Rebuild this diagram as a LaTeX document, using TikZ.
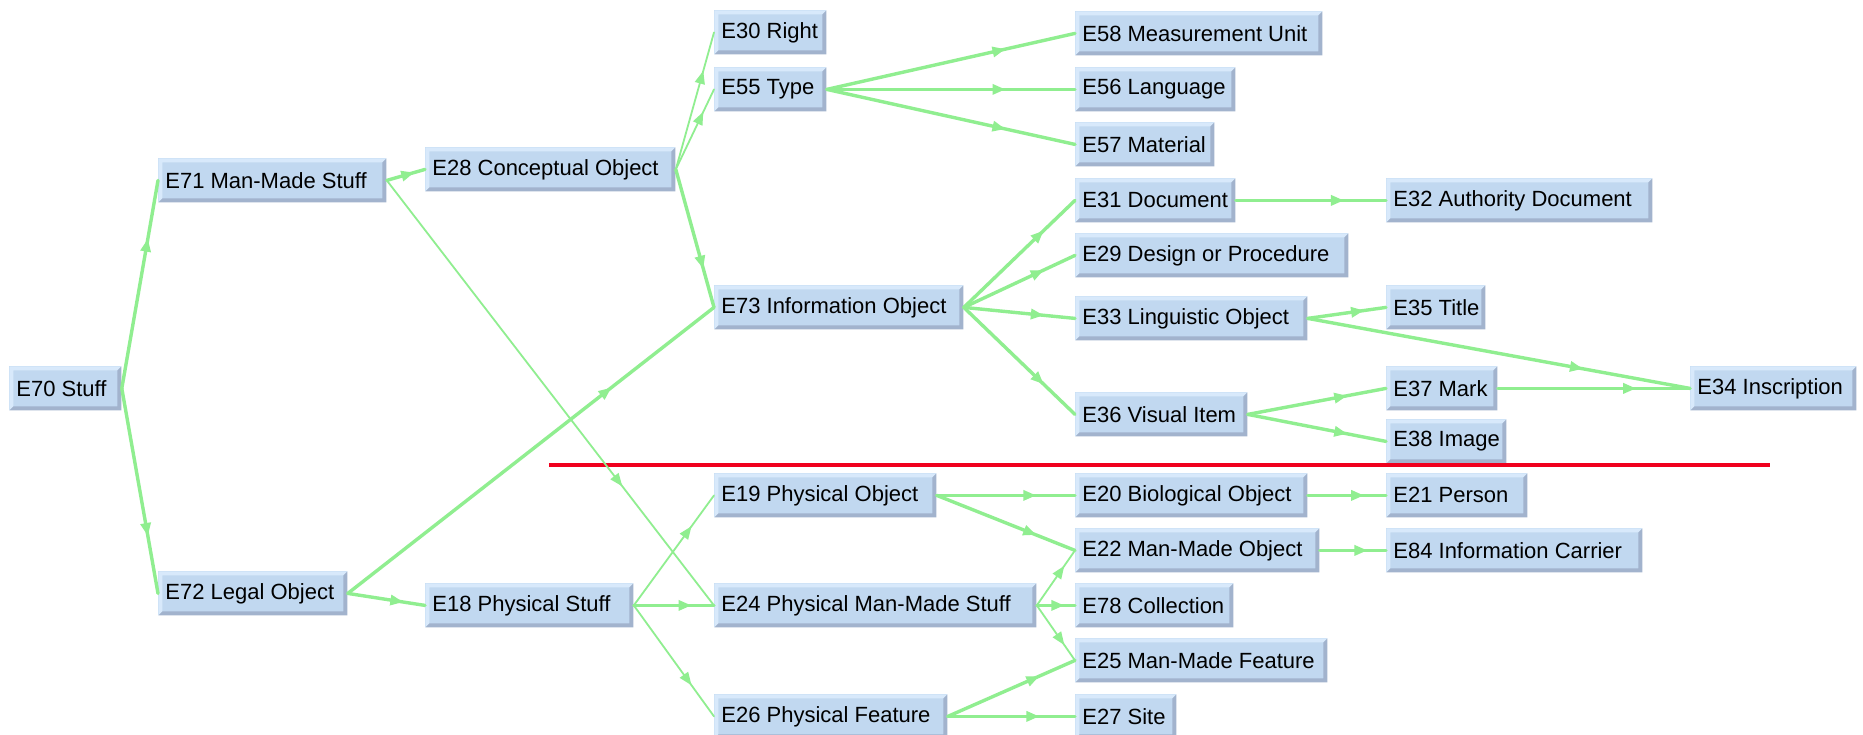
\documentclass[tikz,border=0pt]{standalone}
\usepackage{fontspec}
\setmainfont{Liberation Sans}
\usetikzlibrary{arrows.meta,decorations.markings}

\definecolor{boxfill}{RGB}{193,216,240}
\definecolor{bevhi}{RGB}{216,233,251}
\definecolor{bevlo}{RGB}{162,179,205}
\definecolor{linkgreen}{RGB}{144,238,144}
\definecolor{divider}{RGB}{240,0,30}

\tikzset{
  box/.style={
    fill=boxfill, inner xsep=3.5pt, inner ysep=0pt, minimum height=22pt,
    anchor=north west, font=\fontsize{11}{13}\selectfont,
    path picture={
      \fill[bevhi] (path picture bounding box.south west)
        -- (path picture bounding box.north west)
        -- (path picture bounding box.north east)
        -- ([shift={(-2pt,-2pt)}]path picture bounding box.north east)
        -- ([shift={(2pt,-2pt)}]path picture bounding box.north west)
        -- ([shift={(2pt,2pt)}]path picture bounding box.south west) -- cycle;
      \fill[bevlo] (path picture bounding box.south west)
        -- (path picture bounding box.south east)
        -- (path picture bounding box.north east)
        -- ([shift={(-2pt,-2pt)}]path picture bounding box.north east)
        -- ([shift={(-2pt,2pt)}]path picture bounding box.south east)
        -- ([shift={(2pt,2pt)}]path picture bounding box.south west) -- cycle;
    }},
  link/.style={
    draw=linkgreen, line width=1.7pt, line cap=round,
    postaction={decorate},
    decoration={markings,
      mark=at position 0.72 with {\arrow[linkgreen]{Triangle[length=6.5pt,width=5pt]}}}},
  thinlink/.style={link, line width=0.9pt},
  sep/.style={draw=divider, line width=2pt}
}

% \bx{name}{left px}{top px}{width px}{label}
\newcommand\bx[5]{%
  \pgfmathsetlengthmacro\bxw{#4*0.5pt-7pt}%
  \node[box] (#1) at (#2,#3) {\hbox to \bxw{#5\hss}};}

\begin{document}
\begin{tikzpicture}[x=0.5pt,y=-0.5pt]
  \fill[white] (0,0) rectangle (1863,734);
  \useasboundingbox (0,0) rectangle (1863,734);

  % root and first levels
  \bx{e70}{9}{366}{112}{E70 Stuff}
  \bx{e71}{158}{158}{228}{E71 Man-Made Stuff}
  \bx{e72}{158}{571}{189}{E72 Legal Object}
  \bx{e28}{425}{147}{250}{E28 Conceptual Object}
  \bx{e18}{425}{583}{208}{E18 Physical Stuff}

  % third column
  \bx{e30}{714}{10}{112}{E30 Right}
  \bx{e55}{714}{67}{112}{E55 Type}
  \bx{e73}{714}{285}{249}{E73 Information Object}
  \bx{e19}{714}{473}{222}{E19 Physical Object}
  \bx{e24}{714}{583}{322}{E24 Physical Man-Made Stuff}
  \bx{e26}{714}{694}{233}{E26 Physical Feature}

  % fourth column
  \bx{e58}{1075}{11}{247}{E58 Measurement Unit}
  \bx{e56}{1075}{67}{160}{E56 Language}
  \bx{e57}{1075}{122}{139}{E57 Material}
  \bx{e31}{1075}{178}{160}{E31 Document}
  \bx{e29}{1075}{233}{273}{E29 Design or Procedure}
  \bx{e33}{1075}{296}{232}{E33 Linguistic Object}
  \bx{e36}{1075}{392}{172}{E36 Visual Item}
  \bx{e20}{1075}{473}{232}{E20 Biological Object}
  \bx{e22}{1075}{528}{244}{E22 Man-Made Object}
  \bx{e78}{1075}{583}{158}{E78 Collection}
  \bx{e25}{1075}{638}{252}{E25 Man-Made Feature}
  \bx{e27}{1075}{694}{101}{E27 Site}

  % fifth column
  \bx{e32}{1386}{178}{266}{E32 Authority Document}
  \bx{e35}{1386}{285}{99}{E35 Title}
  \bx{e37}{1386}{366}{111}{E37 Mark}
  \bx{e38}{1386}{419}{120}{E38 Image}
  \bx{e21}{1386}{473}{141}{E21 Person}
  \bx{e84}{1386}{528}{256}{E84 Information Carrier}

  \bx{e34}{1690}{366}{166}{E34 Inscription}

  % divider between conceptual and physical branches
  \coordinate (sepL) at (549,465);
  \coordinate (sepR) at (1770,465);
  \draw[sep] (sepL) -- (sepR);

  % links
  \draw[link] (e70.east) -- (e71.west);
  \draw[link] (e70.east) -- (e72.west);
  \draw[link] (e71.east) -- (e28.west);
  \draw[thinlink] (e71.east) -- (e24.west);
  \draw[link] (e72.east) -- (e73.west);
  \draw[link] (e72.east) -- (e18.west);
  \draw[thinlink] (e28.east) -- (e30.west);
  \draw[thinlink] (e28.east) -- (e55.west);
  \draw[link] (e28.east) -- (e73.west);
  \draw[link] (e55.east) -- (e58.west);
  \draw[link] (e55.east) -- (e56.west);
  \draw[link] (e55.east) -- (e57.west);
  \draw[link] (e73.east) -- (e31.west);
  \draw[link] (e73.east) -- (e29.west);
  \draw[link] (e73.east) -- (e33.west);
  \draw[link] (e73.east) -- (e36.west);
  \draw[link] (e31.east) -- (e32.west);
  \draw[link] (e33.east) -- (e35.west);
  \draw[link] (e33.east) -- (e34.west);
  \draw[link] (e36.east) -- (e37.west);
  \draw[link] (e36.east) -- (e38.west);
  \draw[link] (e37.east) -- (e34.west);
  \draw[thinlink] (e18.east) -- (e19.west);
  \draw[link] (e18.east) -- (e24.west);
  \draw[thinlink] (e18.east) -- (e26.west);
  \draw[link] (e19.east) -- (e20.west);
  \draw[link] (e19.east) -- (e22.west);
  \draw[thinlink] (e24.east) -- (e22.west);
  \draw[link] (e24.east) -- (e78.west);
  \draw[thinlink] (e24.east) -- (e25.west);
  \draw[link] (e26.east) -- (e25.west);
  \draw[link] (e26.east) -- (e27.west);
  \draw[link] (e20.east) -- (e21.west);
  \draw[link] (e22.east) -- (e84.west);
\end{tikzpicture}
\end{document}
